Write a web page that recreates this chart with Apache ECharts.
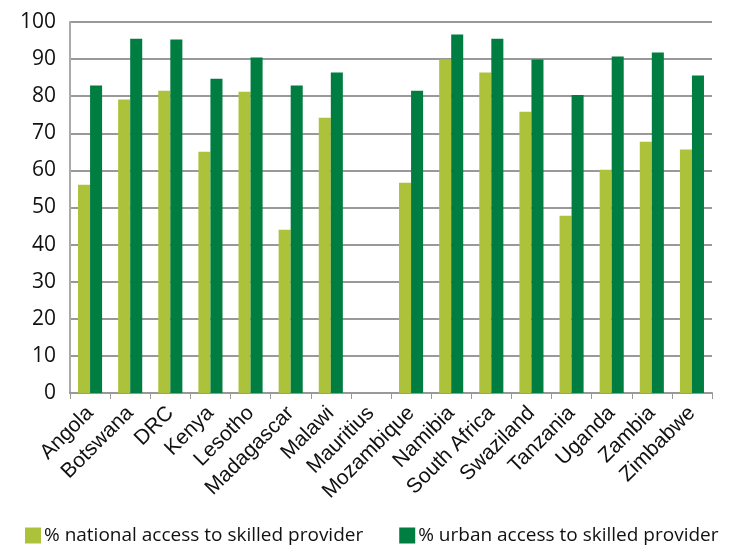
<!DOCTYPE html>
<html>
<head>
<meta charset="utf-8">
<script src="https://cdn.jsdelivr.net/npm/echarts@6/dist/echarts.min.js"></script>
<style>
  html, body { margin: 0; padding: 0; background: #fff; }
  #chart { width: 730px; height: 552px; }
</style>
</head>
<body>
<div id="chart"></div>
<script>
const countries = ['Angola', 'Botswana', 'DRC', 'Kenya', 'Lesotho', 'Madagascar', 'Malawi', 'Mauritius',
  'Mozambique', 'Namibia', 'South Africa', 'Swaziland', 'Tanzania', 'Uganda', 'Zambia', 'Zimbabwe'];
const nationalAccess = [56.1, 79.1, 81.5, 65.0, 81.2, 44.0, 74.2, null, 56.7, 89.9, 86.4, 75.8, 47.8, 60.2, 67.7, 65.6];
const urbanAccess = [82.9, 95.5, 95.3, 84.7, 90.4, 82.9, 86.4, null, 81.5, 96.6, 95.5, 89.9, 80.3, 90.7, 91.8, 85.6];
const seriesNames = ['% national access to skilled provider', '% urban access to skilled provider'];

const chart = echarts.init(document.getElementById('chart'));
const font = 'Open Sans, DejaVu Sans, sans-serif';

chart.setOption({
  animation: false,
  grid: { left: 70, right: 18, top: 22, bottom: 159 },
  legend: {
    bottom: 2,
    left: 20,
    right: 0,
    itemGap: 36,
    itemWidth: 16,
    itemHeight: 16,
    icon: 'rect',
    textStyle: {
      fontFamily: font,
      fontSize: 19,
      color: '#111',
      padding: [0, 0, 0, -2]
    },
    data: seriesNames
  },
  xAxis: {
    type: 'category',
    data: countries,
    axisLine: { lineStyle: { color: '#999', width: 2 } },
    axisTick: { show: true, alignWithLabel: false, length: 6, lineStyle: { color: '#999' } },
    axisLabel: {
      interval: 0,
      rotate: 45,
      fontFamily: 'Liberation Sans, Arial, sans-serif',
      fontSize: 21,
      color: '#111',
      margin: 17
    }
  },
  yAxis: {
    type: 'value',
    min: 0,
    max: 100,
    interval: 10,
    axisLine: { show: true, lineStyle: { color: '#aaa', width: 2 } },
    axisTick: { show: false },
    splitLine: { lineStyle: { color: '#999', width: 2 } },
    axisLabel: { fontFamily: font, fontSize: 21, color: '#111', margin: 14 }
  },
  series: [
    {
      name: seriesNames[0],
      type: 'bar',
      data: nationalAccess,
      barGap: '0%',
      barCategoryGap: '40%',
      itemStyle: { color: '#abc23a' }
    },
    {
      name: seriesNames[1],
      type: 'bar',
      data: urbanAccess,
      barGap: '0%',
      barCategoryGap: '40%',
      itemStyle: { color: '#007d41' }
    }
  ]
});
</script>
</body>
</html>
